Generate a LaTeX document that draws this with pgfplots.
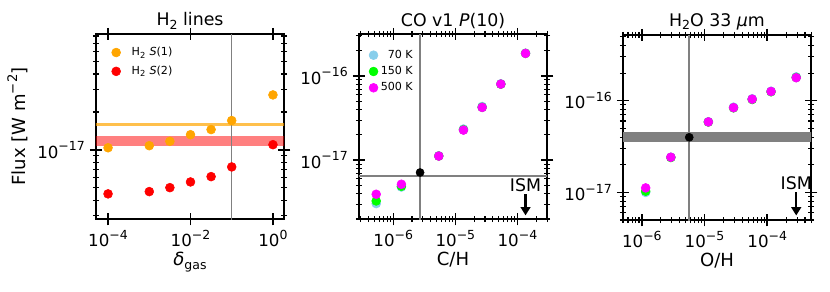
\documentclass[border=0pt]{standalone}
\usepackage{fontspec}
\setmainfont{DejaVu Sans}
\usepackage{pgfplots}
\pgfplotsset{compat=1.18}
\usetikzlibrary{arrows.meta}
\definecolor{mplorange}{HTML}{FFA500}
\definecolor{skyblue}{HTML}{87CEEB}
\definecolor{limeg}{HTML}{00FF00}
\definecolor{magentam}{HTML}{FF00FF}
\definecolor{mgray}{HTML}{808080}
\newcommand{\tp}[1]{10\raisebox{0.45em}{\fontsize{9}{9}\selectfont #1}}
\newcommand{\sps}[1]{\raisebox{0.45em}{\fontsize{9.5}{9.5}\selectfont #1}}
\newcommand{\sbs}[1]{\raisebox{-0.2em}{\fontsize{9}{9}\selectfont #1}}
\pgfplotsset{
  panel/.style={
    scale only axis, width=135.4pt, height=133.2pt,
    axis line style={line width=1.1pt},
    tick style={line width=1.1pt, black},
    minor tick style={line width=0.8pt},
    major tick length=9pt, minor tick length=4.5pt,
    tick align=center,
    ticklabel style={font=\fontsize{12}{14}\selectfont},
    label style={font=\fontsize{13}{15}\selectfont},
    xlabel style={yshift=3pt},
    title style={font=\fontsize{12.5}{14}\selectfont, yshift=-6pt},
    legend style={draw=none, fill=none, font=\fontsize{8}{9}\selectfont, anchor=north west, row sep=2pt},
    legend cell align=left,
  },
  mydot/.style={only marks, mark=*, mark size=3.2pt, color=#1, mark options={draw=none}},
}
\begin{document}
\begin{tikzpicture}
\useasboundingbox (0,0) rectangle (597.6pt,209.52pt);
% Panel 1
\begin{loglogaxis}[panel, at={(96*0.72pt,72*0.72pt)}, anchor=south west,
  xmin=5.1e-5, xmax=1.86, ymin=2.83e-18, ymax=8.3e-17,
  xtick={1e-4,1e-2,1}, xticklabels={\tp{−4},\tp{−2},\tp{0}},
  minor xtick={},
  ytick={1e-17}, yticklabels={\tp{−17}},
  minor ytick={3e-18,4e-18,5e-18,6e-18,7e-18,8e-18,9e-18,2e-17,3e-17,4e-17,5e-17,6e-17,7e-17,8e-17},
  title={H\sbs{2} lines},
  xlabel={{\itshape δ}\sbs{gas}},
  ylabel={Flux [W m\sps{−2}]},
  legend style={at={(0.06,0.96)}},
]
\addplot[mydot=mplorange] coordinates {(1e-4,1.04e-17)(1e-3,1.08e-17)(3.16e-3,1.17e-17)(1e-2,1.32e-17)(3.16e-2,1.45e-17)(0.1,1.71e-17)(1,2.73e-17)};
\addlegendentry{\hspace{6pt}H\textsubscript{2} {\itshape S}(1)}
\addplot[mydot=red] coordinates {(1e-4,4.48e-18)(1e-3,4.67e-18)(3.16e-3,5.02e-18)(1e-2,5.57e-18)(3.16e-2,6.14e-18)(0.1,7.33e-18)(1,1.10e-17)};
\addlegendentry{\hspace{6pt}H\textsubscript{2} {\itshape S}(2)}
\addplot[forget plot, mplorange, opacity=0.7, line width=2pt] coordinates {(1e-5,1.59e-17)(10,1.59e-17)};
\addplot[forget plot, draw=none, fill=red, fill opacity=0.5] coordinates {(1e-5,1.08e-17)(10,1.08e-17)(10,1.30e-17)(1e-5,1.30e-17)} -- cycle;
\addplot[forget plot, mgray, line width=1.1pt] coordinates {(0.1,1e-18)(0.1,1e-16)};
\end{loglogaxis}
% Panel 2
\begin{loglogaxis}[panel, at={(359*0.72pt,72*0.72pt)}, anchor=south west,
  xmin=2.8e-7, xmax=3.0e-4, ymin=2.0e-18, ymax=3.16e-16,
  xtick={1e-6,1e-5,1e-4}, xticklabels={\tp{−6},\tp{−5},\tp{−4}},
  minor xtick={3e-7,4e-7,5e-7,6e-7,7e-7,8e-7,9e-7,2e-6,3e-6,4e-6,5e-6,6e-6,7e-6,8e-6,9e-6,2e-5,3e-5,4e-5,5e-5,6e-5,7e-5,8e-5,9e-5,2e-4,3e-4},
  ytick={1e-17,1e-16}, yticklabels={\tp{−17},\tp{−16}},
  minor ytick={2e-18,3e-18,4e-18,5e-18,6e-18,7e-18,8e-18,9e-18,2e-17,3e-17,4e-17,5e-17,6e-17,7e-17,8e-17,9e-17,2e-16,3e-16},
  title={CO v1 {\itshape P}(10)},
  xlabel={C/H},
  legend style={at={(0.03,0.945)}, row sep=0.3pt},
]
\addplot[forget plot, mgray, line width=1.1pt] coordinates {(1e-7,6.5e-18)(1e-3,6.5e-18)};
\addplot[mydot=skyblue] coordinates {(5.3e-7,3.05e-18)(1.35e-6,4.8e-18)(5.4e-6,1.13e-17)(1.35e-5,2.35e-17)(2.7e-5,4.35e-17)(5.4e-5,8.1e-17)(1.35e-4,1.87e-16)};
\addlegendentry{\phantom{1}70 K}
\addplot[mydot=limeg] coordinates {(5.3e-7,3.28e-18)(1.35e-6,4.9e-18)(5.4e-6,1.12e-17)(1.35e-5,2.3e-17)(2.7e-5,4.25e-17)(5.4e-5,8.0e-17)(1.35e-4,1.86e-16)};
\addlegendentry{150 K}
\addplot[mydot=magentam] coordinates {(5.3e-7,3.94e-18)(1.35e-6,5.18e-18)(5.4e-6,1.12e-17)(1.35e-5,2.28e-17)(2.7e-5,4.24e-17)(5.4e-5,8.03e-17)(1.35e-4,1.86e-16)};
\addlegendentry{500 K}
\addplot[forget plot, only marks, mark=*, mark size=2.9pt, black] coordinates {(2.7e-6,7.14e-18)};
\addplot[forget plot, mgray, line width=1.1pt] coordinates {(2.7e-6,1e-18)(2.7e-6,1e-15)};
\node[font=\fontsize{12.5}{14}\selectfont] at (axis cs:1.35e-4,5.0e-18) {ISM};
\draw[line width=1.5pt, -{Triangle[width=7pt,length=6pt]}] (axis cs:1.35e-4,3.94e-18) -- (axis cs:1.35e-4,2.21e-18);
\end{loglogaxis}
% Panel 3
\begin{loglogaxis}[panel, at={(623*0.72pt,71*0.72pt)}, anchor=south west,
  xmin=5.0e-7, xmax=5.0e-4, ymin=5.0e-18, ymax=5.2e-16,
  xtick={1e-6,1e-5,1e-4}, xticklabels={\tp{−6},\tp{−5},\tp{−4}},
  minor xtick={5e-7,6e-7,7e-7,8e-7,9e-7,2e-6,3e-6,4e-6,5e-6,6e-6,7e-6,8e-6,9e-6,2e-5,3e-5,4e-5,5e-5,6e-5,7e-5,8e-5,9e-5,2e-4,3e-4,4e-4,5e-4},
  ytick={1e-17,1e-16}, yticklabels={\tp{−17},\tp{−16}},
  minor ytick={5e-18,6e-18,7e-18,8e-18,9e-18,2e-17,3e-17,4e-17,5e-17,6e-17,7e-17,8e-17,9e-17,2e-16,3e-16,4e-16,5e-16},
  title={H\sbs{2}O 33 {\itshape μ}m},
  xlabel={O/H},
]
\addplot[forget plot, draw=none, fill=mgray] coordinates {(1e-7,3.52e-17)(1e-3,3.52e-17)(1e-3,4.52e-17)(1e-7,4.52e-17)} -- cycle;
\addplot[mydot=skyblue] coordinates {(1.15e-6,1.0e-17)(2.9e-6,2.42e-17)(1.15e-5,5.9e-17)(2.9e-5,8.5e-17)(5.75e-5,1.05e-16)(1.15e-4,1.27e-16)(2.9e-4,1.82e-16)};
\addplot[mydot=limeg] coordinates {(1.15e-6,1.03e-17)(2.9e-6,2.4e-17)(1.15e-5,5.85e-17)(2.9e-5,8.35e-17)(5.75e-5,1.03e-16)(1.15e-4,1.25e-16)(2.9e-4,1.79e-16)};
\addplot[mydot=magentam] coordinates {(1.15e-6,1.12e-17)(2.9e-6,2.42e-17)(1.15e-5,5.87e-17)(2.9e-5,8.4e-17)(5.75e-5,1.04e-16)(1.15e-4,1.26e-16)(2.9e-4,1.78e-16)};
\addplot[only marks, mark=*, mark size=2.9pt, black] coordinates {(5.7e-6,3.99e-17)};
\addplot[mgray, line width=1.1pt] coordinates {(5.7e-6,1e-18)(5.7e-6,1e-15)};
\node[font=\fontsize{12.5}{14}\selectfont] at (axis cs:2.9e-4,1.26e-17) {ISM};
\draw[line width=1.5pt, -{Triangle[width=7pt,length=6pt]}] (axis cs:2.9e-4,1.0e-17) -- (axis cs:2.9e-4,5.6e-18);
\end{loglogaxis}
\end{tikzpicture}
\end{document}
